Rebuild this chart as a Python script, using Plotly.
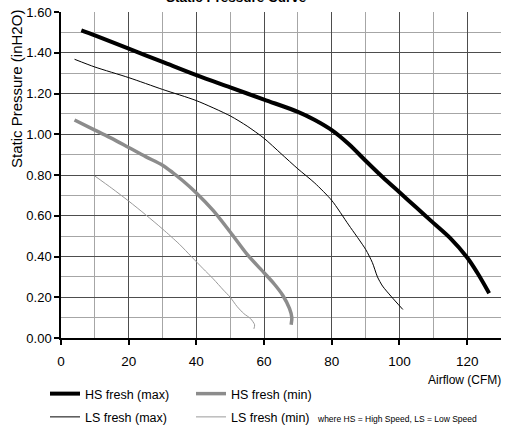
import plotly.graph_objects as go

# ---- data ----
hs_max_x = [6, 10, 20, 30, 40, 50, 60, 70, 75, 80, 85, 90, 95, 100, 105, 110, 115, 120, 123, 126.5]
hs_max_y = [1.51, 1.485, 1.42, 1.355, 1.29, 1.23, 1.17, 1.11, 1.07, 1.02, 0.952, 0.87, 0.79, 0.715, 0.64, 0.565, 0.49, 0.395, 0.32, 0.22]

hs_min_x = [4, 10, 15, 20, 25, 30, 33, 36, 40, 45, 50, 55, 60, 63, 65.5, 67.5, 68.2, 68.0]
hs_min_y = [1.07, 1.02, 0.98, 0.935, 0.89, 0.848, 0.812, 0.772, 0.712, 0.625, 0.52, 0.41, 0.32, 0.265, 0.21, 0.145, 0.10, 0.065]

ls_max_x = [4, 10, 20, 30, 40, 50, 55, 60, 65, 70, 75, 80, 85, 90, 92, 93.5, 95, 97.5, 101]
ls_max_y = [1.368, 1.33, 1.278, 1.22, 1.165, 1.09, 1.04, 0.98, 0.905, 0.83, 0.76, 0.675, 0.555, 0.435, 0.37, 0.30, 0.255, 0.205, 0.14]

ls_min_x = [10, 15, 20, 25, 30, 35, 38.5, 42, 45, 48, 50, 52, 54, 56, 57.2, 57.0]
ls_min_y = [0.795, 0.735, 0.672, 0.605, 0.535, 0.46, 0.40, 0.34, 0.29, 0.235, 0.20, 0.155, 0.12, 0.095, 0.065, 0.045]

series_names = ["HS fresh (max)", "HS fresh (min)", "LS fresh (max)", "LS fresh (min)"]
title_text = "Static Pressure Curve"
y_title = "Static Pressure (inH2O)"
x_title = "Airflow (CFM)"
note_text = "where HS = High Speed, LS = Low Speed"

FONT = "Liberation Sans, Arial, sans-serif"

fig = go.Figure()
fig.add_trace(go.Scatter(x=hs_max_x, y=hs_max_y, mode="lines", name=series_names[0],
                         line=dict(color="#000000", width=4, shape="spline", smoothing=0.9),
                         legend="legend", legendgroup="a"))
fig.add_trace(go.Scatter(x=ls_max_x, y=ls_max_y, mode="lines", name=series_names[2],
                         line=dict(color="#000000", width=1, shape="spline", smoothing=0.7),
                         legend="legend", legendgroup="b"))
fig.add_trace(go.Scatter(x=hs_min_x, y=hs_min_y, mode="lines", name=series_names[1],
                         line=dict(color="#8c8c8c", width=3.5, shape="spline", smoothing=0.8),
                         legend="legend2", legendgroup="c"))
fig.add_trace(go.Scatter(x=ls_min_x, y=ls_min_y, mode="lines", name=series_names[3],
                         line=dict(color="#9a9a9a", width=1, shape="spline", smoothing=0.7),
                         legend="legend2", legendgroup="d"))

PW = 440.0
PH = 326.0

def px_x(p):
    return (p - 61) / PW

def px_y(p):
    return (12 + PH - p) / PH

leg_common = dict(orientation="v", bgcolor="rgba(0,0,0,0)", borderwidth=0,
                  font=dict(family=FONT, size=12.5, color="#000"),
                  traceorder="grouped", tracegroupgap=4,
                  xanchor="left", yanchor="top", itemclick=False, itemdoubleclick=False)

fig.update_layout(
    width=506, height=429,
    margin=dict(l=61, r=5, t=12, b=91, autoexpand=False),
    paper_bgcolor="white", plot_bgcolor="white",
    font=dict(family=FONT, size=13, color="#000"),
    showlegend=True,
    legend=dict(x=px_x(45), y=px_y(379), **leg_common),
    legend2=dict(x=px_x(191), y=px_y(379), **leg_common),
    xaxis=dict(range=[0, 130], dtick=20, tick0=0,
               showgrid=True, gridcolor="#4d4d4d", gridwidth=1,
               minor=dict(dtick=10, showgrid=True, gridcolor="#a6a6a6", gridwidth=1, ticks=""),
               showline=True, linecolor="#000", linewidth=1.5,
               ticks="outside", ticklen=5, tickcolor="#000", tickwidth=1.5,
               zeroline=False, tickfont=dict(family=FONT, size=13.5),
               ticklabelstandoff=5, fixedrange=True, automargin=False),
    yaxis=dict(range=[0, 1.6], dtick=0.2, tick0=0, tickformat=".2f",
               showgrid=True, gridcolor="#4d4d4d", gridwidth=1,
               minor=dict(dtick=0.1, showgrid=True, gridcolor="#a6a6a6", gridwidth=1, ticks=""),
               showline=True, linecolor="#000", linewidth=1.5,
               ticks="outside", ticklen=5, tickcolor="#000", tickwidth=1.5,
               zeroline=False, tickfont=dict(family=FONT, size=13),
               ticklabelstandoff=0, fixedrange=True, automargin=False),
    annotations=[
        dict(text="<b>" + title_text + "</b>", xref="paper", yref="paper",
             x=px_x(236), y=px_y(7), xanchor="center", yanchor="bottom",
             showarrow=False, font=dict(family=FONT, size=13.5, color="#000")),
        dict(text=y_title, xref="paper", yref="paper", textangle=-90,
             x=px_x(17), y=px_y(89), xanchor="center", yanchor="middle",
             showarrow=False, font=dict(family=FONT, size=15, color="#000")),
        dict(text=x_title, xref="paper", yref="paper",
             x=px_x(503), y=px_y(380), xanchor="right", yanchor="middle",
             showarrow=False, font=dict(family=FONT, size=12, color="#000")),
        dict(text=note_text, xref="paper", yref="paper",
             x=px_x(315), y=px_y(419), xanchor="left", yanchor="middle",
             showarrow=False, font=dict(family=FONT, size=8.5, color="#000")),
    ],
)

fig.write_html("out.html", config={"displayModeBar": False},
               post_script="document.body.style.margin='0';document.body.style.overflow='hidden';")
